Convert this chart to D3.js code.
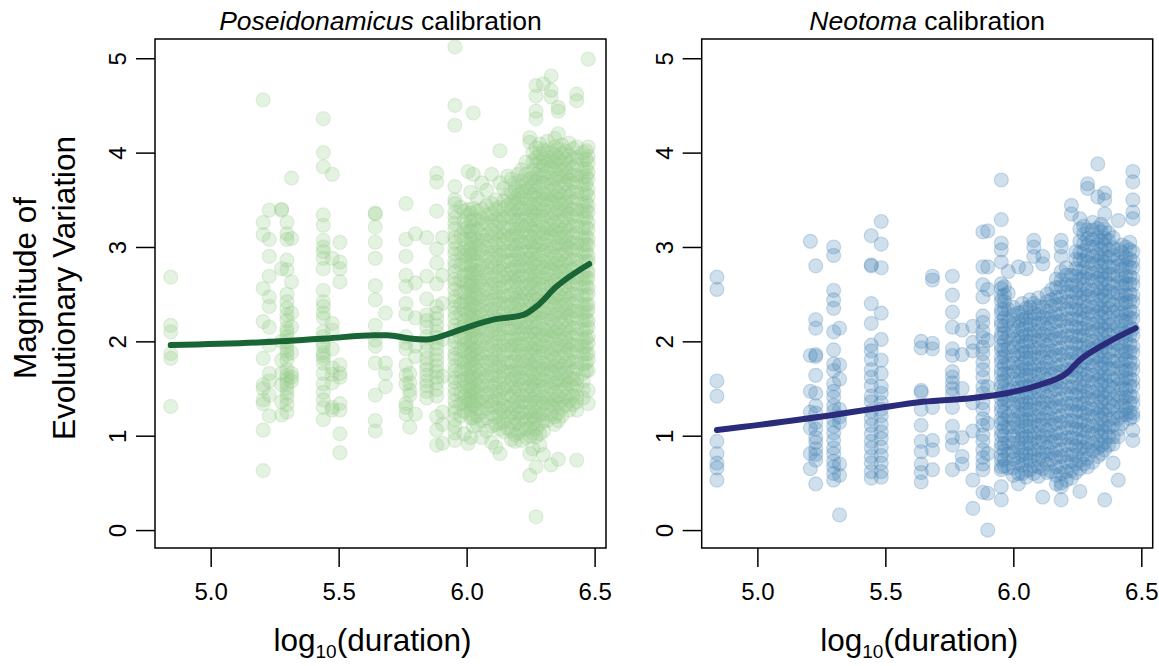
<!DOCTYPE html>
<html>
  <head>
    <meta charset="utf-8">
    <title>Magnitude of evolutionary variation</title>
    <script src="https://cdn.jsdelivr.net/npm/d3@7"></script>
    <style>
      body { margin: 0; background: #fff; }
      svg { display: block; font-family: "Liberation Sans", Arial, sans-serif; }
      .axis text { font-size: 24px; fill: #000; }
      .axis line { stroke: #000; stroke-width: 1.5; }
      .title { font-size: 26.5px; }
      .label { font-size: 31.5px; }
    </style>
  </head>
  <body>
    <svg id="svg" width="1159" height="666"></svg>
    <script>
      // ticks
      var xTicks = [5.0, 5.5, 6.0, 6.5];
      var yTicks = [0, 1, 2, 3, 4, 5];

      // Poseidonamicus calibration: x position of each duration column, y values in that column
      var poseCols = [4.844, 5.205, 5.229, 5.277, 5.298, 5.316, 5.440, 5.475, 5.505, 5.643, 5.683, 5.763, 5.778, 5.800, 5.844, 5.883, 5.906,
        5.954, 5.977, 6.006, 6.026, 6.059, 6.098, 6.130, 6.160, 6.189, 6.215, 6.247, 6.271, 6.300, 6.330, 6.358, 6.400, 6.430, 6.475,
        5.990, 6.016, 6.042, 6.078, 6.114, 6.145, 6.175, 6.202, 6.232, 6.259, 6.286, 6.315, 6.344, 6.372, 6.386, 6.415, 6.455, 6.467];
      var poseVals = [
        [2.68,2.17,2.10,1.87,1.82,1.31],
        [4.56,3.26,3.13,2.56,2.21,1.82,1.54,1.50,1.38,1.34,1.06,0.63],
        [3.39,3.08,2.90,2.69,2.47,2.37,2.15,1.96,1.66,1.58,1.43,1.21],
        [3.40,3.39,2.77,2.00,1.80,1.66,1.54,1.36,1.22],
        [3.26,3.14,3.08,2.86,2.76,2.50,2.42,2.35,2.28,2.22,2.14,2.10,2.05,2.00,1.95,1.90,1.86,1.80,1.70,1.64,1.60,1.55,1.50,1.45,1.40,1.33,1.25],
        [3.73,3.09,2.63,2.30,2.15,1.88,1.66,1.62,1.58],
        [4.36,4.00,3.85,3.34,3.23,3.07,3.00,2.95,2.88,2.77,2.54,2.42,2.37,2.30,2.25,2.10,2.05,1.98,1.95,1.88,1.85,1.82,1.77,1.66,1.55,1.46,1.38,1.30,1.17],
        [3.77,2.88,2.19,2.12,1.92,1.72,1.65,1.56,1.30,1.27],
        [3.05,2.84,2.77,2.63,1.75,1.66,1.62,1.34,1.27,1.02,0.82],
        [3.36,3.35,3.21,3.05,2.88,2.59,2.44,2.17,2.01,1.95,1.77,1.43,1.16,1.05],
        [2.30,1.77,1.66,1.52],
        [3.46,3.08,2.90,2.70,2.58,2.40,2.29,2.05,1.98,1.92,1.75,1.64,1.55,1.34,1.30,1.23],
        [1.66,1.56,1.48,1.43,1.09],
        [3.14,2.62,2.25,1.95,1.84,1.23],
        [3.10,2.69,2.45,2.28,2.22,2.15,2.05,1.98,1.90,1.82,1.75,1.70,1.64,1.58,1.53,1.47,1.40],
        [3.78,3.69,3.38,2.98,2.83,2.61,2.37,2.30,2.24,2.17,2.10,2.04,1.98,1.92,1.86,1.80,1.74,1.68,1.62,1.56,1.49,1.42,1.20,1.06,0.90],
        [3.10,2.70,2.40,2.02,1.63,1.25,1.12,0.92],
        [5.12,4.50,4.29,3.64,3.50,3.46,3.37,3.31,3.25,3.19,3.10,3.05,2.98,2.93,2.85,2.80,2.74,2.66,2.61,2.55,2.47,2.43,2.36,2.30,2.25,2.17,2.12,2.05,2.00,1.93,1.86,1.82,1.74,1.69,1.61,1.57,1.50,1.44,1.37,1.30,1.25,1.17,1.10,1.03,0.95],
        [3.42,3.12,2.94,2.81,2.65,2.52,2.39,2.29,2.14,2.04,1.91,1.81,1.68,1.58,1.45,1.34,1.21],
        [3.80,3.40,3.34,3.21,3.16,3.04,2.96,2.89,2.79,2.72,2.62,2.56,2.47,2.40,2.30,2.25,2.15,2.09,1.99,1.94,1.84,1.78,1.69,1.63,1.53,1.48,1.38,1.33,1.24,0.92],
        [4.42,3.77,3.41,3.29,3.21,3.11,3.04,2.93,2.86,2.76,2.71,2.60,2.54,2.45,2.38,2.29,2.22,2.12,2.07,1.97,1.91,1.82,1.76,1.66,1.61,1.51,1.46,1.37,1.32,1.19,1.10],
        [3.68,3.40,3.30,3.24,3.13,3.07,2.97,2.91,2.81,2.75,2.65,2.59,2.49,2.43,2.33,2.28,2.18,2.12,2.02,1.96,1.87,1.81,1.71,1.65,1.56,1.50,1.40,1.35,1.25,1.16,0.98],
        [3.77,3.46,3.35,3.28,3.18,3.11,3.01,2.94,2.84,2.78,2.67,2.61,2.51,2.44,2.34,2.28,2.17,2.11,2.01,1.95,1.85,1.79,1.69,1.63,1.53,1.47,1.37,1.32,1.23,1.10,0.93],
        [4.02,3.68,3.42,3.33,3.26,3.15,3.08,2.98,2.91,2.80,2.74,2.64,2.57,2.47,2.40,2.30,2.23,2.13,2.07,1.96,1.90,1.79,1.73,1.62,1.56,1.46,1.39,1.29,1.23,1.13,1.07,0.81],
        [3.75,3.55,3.44,3.33,3.19,3.09,2.95,2.85,2.71,2.62,2.48,2.38,2.24,2.14,2.01,1.91,1.77,1.67,1.53,1.44,1.30,1.20,1.08],
        [3.68,3.62,3.52,3.46,3.36,3.29,3.19,3.13,3.02,2.96,2.86,2.79,2.69,2.63,2.52,2.46,2.36,2.29,2.19,2.13,2.02,1.96,1.86,1.79,1.69,1.63,1.52,1.46,1.36,1.29,1.19,1.12,1.01,0.94],
        [3.82,3.70,3.59,3.52,3.41,3.34,3.23,3.16,3.05,2.98,2.87,2.80,2.69,2.62,2.51,2.44,2.33,2.26,2.15,2.08,1.97,1.90,1.79,1.72,1.61,1.54,1.43,1.36,1.25,1.18,1.07,0.95],
        [4.16,4.11,3.72,3.63,3.56,3.46,3.39,3.29,3.22,3.12,3.05,2.95,2.88,2.78,2.71,2.61,2.54,2.44,2.37,2.27,2.20,2.10,2.03,1.93,1.86,1.76,1.69,1.59,1.52,1.42,1.35,1.25,1.18,1.08,1.00,0.81,0.58],
        [4.71,4.60,4.44,4.36,4.05,3.95,3.88,3.77,3.70,3.59,3.52,3.41,3.34,3.23,3.16,3.05,2.98,2.87,2.80,2.69,2.62,2.51,2.44,2.33,2.26,2.15,2.08,1.97,1.90,1.79,1.72,1.61,1.54,1.43,1.36,1.25,1.18,1.07,0.99,0.67,0.14],
        [4.73,4.03,3.93,3.86,3.75,3.68,3.57,3.50,3.39,3.32,3.21,3.14,3.03,2.96,2.85,2.78,2.67,2.60,2.49,2.42,2.31,2.24,2.13,2.06,1.95,1.88,1.77,1.70,1.59,1.52,1.41,1.34,1.23,1.16,1.05,0.80],
        [4.81,4.66,4.59,4.00,3.91,3.84,3.73,3.66,3.55,3.48,3.37,3.30,3.19,3.12,3.01,2.94,2.83,2.76,2.65,2.58,2.47,2.40,2.29,2.22,2.11,2.04,1.93,1.86,1.75,1.68,1.57,1.50,1.39,1.32,1.22,0.69],
        [4.48,4.44,4.20,4.04,3.94,3.87,3.76,3.69,3.58,3.51,3.40,3.33,3.22,3.15,3.04,2.97,2.86,2.79,2.68,2.61,2.50,2.43,2.32,2.25,2.14,2.07,1.96,1.89,1.78,1.71,1.60,1.53,1.42,1.35,1.24,1.16,0.75],
        [4.10,3.97,3.89,3.78,3.71,3.60,3.53,3.42,3.35,3.24,3.17,3.06,2.99,2.88,2.81,2.70,2.63,2.52,2.45,2.34,2.27,2.16,2.09,1.98,1.91,1.80,1.73,1.62,1.55,1.44,1.37,1.27],
        [4.62,4.55,4.06,3.95,3.87,3.76,3.69,3.58,3.51,3.40,3.33,3.22,3.15,3.04,2.97,2.86,2.79,2.68,2.61,2.50,2.43,2.32,2.25,2.14,2.07,1.96,1.89,1.78,1.71,1.60,1.53,1.42,1.36,1.27,0.74],
        [4.99,4.06,3.96,3.89,3.79,3.72,3.61,3.54,3.44,3.37,3.26,3.19,3.09,3.02,2.91,2.85,2.74,2.67,2.57,2.50,2.39,2.33,2.22,2.15,2.05,1.98,1.87,1.80,1.69,1.48,1.34],
        // columns in between, inside the dense band
        [3.38,3.27,3.19,3.08,2.98,2.91,2.81,2.70,2.62,2.52,2.42,2.34,2.23,2.16,2.05,1.97,1.89,1.78,1.71,1.60,1.52,1.42,1.35,1.26,1.02],
        [3.58,3.36,3.27,3.17,3.08,2.99,2.92,2.81,2.73,2.64,2.58,2.48,2.40,2.33,2.25,2.17,2.11,2.02,1.94,1.87,1.80,1.72,1.63,1.57,1.48,1.42,1.35,1.27,1.19,0.98],
        [3.52,3.38,3.28,3.19,3.08,3.02,2.93,2.85,2.75,2.68,2.59,2.51,2.45,2.35,2.26,2.19,2.11,2.03,1.93,1.86,1.79,1.69,1.61,1.53,1.46,1.37,1.29,1.21,1.12],
        [3.60,3.44,3.34,3.25,3.14,3.07,2.99,2.89,2.80,2.72,2.65,2.55,2.46,2.38,2.31,2.21,2.12,2.04,1.97,1.87,1.78,1.70,1.63,1.53,1.44,1.36,1.29,1.19,1.05],
        [3.50,3.40,3.30,3.22,3.14,3.04,2.95,2.87,2.79,2.69,2.60,2.52,2.44,2.34,2.25,2.17,2.09,1.99,1.90,1.82,1.74,1.64,1.55,1.47,1.39,1.30,1.20,1.12,0.88],
        [3.62,3.49,3.40,3.30,3.20,3.12,3.04,2.94,2.84,2.76,2.68,2.58,2.48,2.40,2.32,2.22,2.12,2.04,1.96,1.86,1.76,1.68,1.60,1.50,1.40,1.32,1.25,1.15,1.04],
        [3.72,3.58,3.48,3.40,3.32,3.22,3.12,3.04,2.96,2.86,2.76,2.68,2.60,2.50,2.40,2.32,2.24,2.14,2.04,1.96,1.88,1.78,1.68,1.60,1.52,1.42,1.32,1.24,1.15,1.05,0.96],
        [3.77,3.65,3.55,3.47,3.39,3.29,3.19,3.11,3.03,2.93,2.83,2.75,2.67,2.57,2.47,2.39,2.31,2.21,2.11,2.03,1.95,1.85,1.75,1.67,1.59,1.49,1.39,1.31,1.23,1.13,1.03],
        [3.90,3.77,3.67,3.59,3.51,3.41,3.31,3.23,3.15,3.05,2.95,2.87,2.79,2.69,2.59,2.51,2.43,2.33,2.23,2.15,2.07,1.97,1.87,1.79,1.71,1.61,1.51,1.43,1.35,1.25,1.15,1.07,0.98],
        [4.00,3.91,3.81,3.73,3.65,3.55,3.45,3.37,3.29,3.19,3.09,3.01,2.93,2.83,2.73,2.65,2.57,2.47,2.37,2.29,2.21,2.11,2.01,1.93,1.85,1.75,1.65,1.57,1.49,1.39,1.29,1.21,1.13,1.03,0.86],
        [4.09,3.99,3.90,3.82,3.74,3.64,3.54,3.46,3.38,3.28,3.18,3.10,3.02,2.92,2.82,2.74,2.66,2.56,2.46,2.38,2.30,2.20,2.10,2.02,1.94,1.84,1.74,1.66,1.58,1.48,1.38,1.30,1.22,1.12,1.02,0.90],
        [4.12,4.02,3.95,3.87,3.79,3.69,3.59,3.51,3.43,3.33,3.23,3.15,3.07,2.97,2.87,2.79,2.71,2.61,2.51,2.43,2.35,2.25,2.15,2.07,1.99,1.89,1.79,1.71,1.63,1.53,1.43,1.35,1.27,1.16],
        [4.15,4.06,3.98,3.90,3.82,3.72,3.62,3.54,3.46,3.36,3.26,3.18,3.10,3.00,2.90,2.82,2.74,2.64,2.54,2.46,2.38,2.28,2.18,2.10,2.02,1.92,1.82,1.74,1.66,1.56,1.46,1.38,1.30,1.20,1.12],
        [4.08,3.99,3.90,3.82,3.74,3.64,3.54,3.46,3.38,3.28,3.18,3.10,3.02,2.92,2.82,2.74,2.66,2.56,2.46,2.38,2.30,2.20,2.10,2.02,1.94,1.84,1.74,1.66,1.58,1.48,1.38,1.30,1.21],
        [4.02,3.93,3.83,3.75,3.67,3.57,3.47,3.39,3.31,3.21,3.11,3.03,2.95,2.85,2.75,2.67,2.59,2.49,2.39,2.31,2.23,2.13,2.03,1.95,1.87,1.77,1.67,1.59,1.51,1.41,1.32],
        [4.04,3.94,3.84,3.76,3.68,3.58,3.48,3.40,3.32,3.22,3.12,3.04,2.96,2.86,2.76,2.68,2.60,2.50,2.40,2.32,2.24,2.14,2.04,1.96,1.88,1.78,1.68,1.60,1.52,1.42,1.33],
        [4.00,3.92,3.82,3.74,3.66,3.56,3.46,3.38,3.30,3.20,3.10,3.02,2.94,2.84,2.74,2.66,2.58,2.48,2.38,2.30,2.22,2.12,2.02,1.94,1.86,1.76,1.66,1.58,1.49,1.40],
        [4.02,3.93,3.83,3.75,3.67,3.57,3.47,3.39,3.31,3.21,3.11,3.03,2.95,2.85,2.75,2.67,2.59,2.49,2.39,2.31,2.23,2.13,2.03,1.95,1.87,1.77,1.69]
      ];
      var poseTrendX = [4.844, 5.20, 5.45, 5.64, 5.69, 5.78, 5.844, 5.935, 6.026, 6.104, 6.221, 6.273, 6.351, 6.479];
      var poseTrendY = [1.96, 1.99, 2.03, 2.065, 2.065, 2.03, 2.02, 2.085, 2.17, 2.23, 2.28, 2.37, 2.58, 2.82];

      // Neotoma calibration
      var neoCols = [4.842, 5.207, 5.228, 5.298, 5.321, 5.445, 5.484, 5.640, 5.684, 5.762, 5.800, 5.842, 5.881, 5.900,
        5.953, 5.980, 6.020, 6.050, 6.080, 6.115, 6.150, 6.187, 6.227, 6.260, 6.290, 6.330, 6.357, 6.390, 6.410, 6.440, 6.467,
        5.965, 6.000, 6.035, 6.065, 6.098, 6.132, 6.168, 6.207, 6.244, 6.275, 6.310, 6.344, 6.372, 6.425, 6.455];
      var neoVals = [
        [2.68,2.55,1.58,1.42,0.94,0.81,0.71,0.66,0.53],
        [3.06,1.85,1.47,1.25,1.08,0.81,0.65],
        [2.80,2.23,2.14,1.86,1.84,1.64,1.45,1.32,1.24,1.14,1.07,0.98,0.93,0.86,0.80,0.74,0.49],
        [3.00,2.91,2.54,2.44,2.35,2.10,1.91,1.76,1.69,1.55,1.47,1.41,1.32,1.26,1.17,1.10,1.03,0.95,0.87,0.81,0.73,0.67,0.60,0.53],
        [2.14,1.75,1.60,1.28,1.20,1.14,0.70,0.58,0.16],
        [3.12,2.81,2.80,2.40,2.19,1.96,1.90,1.81,1.70,1.62,1.53,1.42,1.36,1.26,1.18,1.11,1.02,0.94,0.87,0.78,0.71,0.62,0.55],
        [3.27,3.03,2.78,2.30,2.02,1.80,1.66,1.52,1.45,1.35,1.28,1.21,1.12,1.04,0.97,0.88,0.79,0.71,0.62,0.56],
        [2.00,1.93,1.48,1.46,1.28,1.11,0.94,0.83,0.70,0.61,0.51],
        [2.69,2.65,1.98,1.92,1.30,0.95,0.85,0.64],
        [2.69,2.49,2.31,2.15,1.92,1.85,1.68,1.62,1.56,1.50,1.44,1.30,1.10,0.98,0.90,0.64],
        [2.12,1.86,1.50,0.98,0.78,0.70],
        [2.16,1.99,1.90,1.35,1.05,0.53,0.23],
        [3.16,2.79,2.60,2.47,2.27,2.20,2.11,2.04,1.94,1.87,1.78,1.70,1.62,1.52,1.45,1.35,1.28,1.18,1.11,1.01,0.94,0.85,0.77,0.70,0.64,0.40],
        [3.17,2.79,2.55,2.01,1.52,1.13,0.81,0.39,0.00],
        [3.71,3.29,3.04,2.97,2.84,2.61,2.56,2.48,2.43,2.34,2.30,2.21,2.17,2.08,2.04,1.95,1.91,1.83,1.78,1.70,1.65,1.57,1.52,1.44,1.39,1.31,1.26,1.18,1.13,1.05,1.00,0.92,0.87,0.79,0.74,0.67,0.64,0.46,0.32],
        [2.74,2.51,2.34,2.21,2.05,1.93,1.77,1.65,1.49,1.37,1.21,1.09,0.93,0.81,0.66],
        [2.79,2.30,2.21,2.15,2.05,1.99,1.89,1.83,1.73,1.67,1.57,1.51,1.41,1.35,1.25,1.19,1.09,1.03,0.93,0.87,0.77,0.71,0.60,0.49],
        [2.77,2.35,2.25,2.18,2.07,2.00,1.89,1.82,1.71,1.64,1.53,1.46,1.35,1.28,1.17,1.10,0.99,0.92,0.81,0.74,0.63,0.56],
        [3.07,3.00,2.90,2.40,2.30,2.23,2.12,2.05,1.94,1.87,1.76,1.69,1.58,1.51,1.40,1.33,1.22,1.15,1.04,0.97,0.86,0.79,0.68,0.60],
        [2.90,2.82,2.36,2.26,2.19,2.08,2.01,1.90,1.83,1.72,1.65,1.54,1.47,1.36,1.29,1.18,1.11,1.00,0.93,0.82,0.75,0.65,0.35],
        [2.55,2.44,2.37,2.26,2.19,2.08,2.01,1.90,1.83,1.72,1.65,1.54,1.47,1.36,1.29,1.18,1.11,1.00,0.93,0.82,0.75,0.62],
        [3.07,3.00,2.90,2.74,2.65,2.58,2.47,2.40,2.29,2.22,2.11,2.04,1.93,1.86,1.75,1.68,1.57,1.50,1.39,1.32,1.21,1.14,1.03,0.96,0.85,0.78,0.67,0.60,0.50,0.46,0.32],
        [3.44,3.35,2.70,2.60,2.53,2.42,2.35,2.24,2.17,2.06,1.99,1.88,1.81,1.70,1.63,1.52,1.45,1.34,1.27,1.16,1.09,0.98,0.91,0.80,0.73,0.63,0.55],
        [3.30,3.19,3.06,2.94,2.86,2.74,2.66,2.54,2.46,2.34,2.26,2.14,2.06,1.94,1.86,1.74,1.66,1.54,1.46,1.34,1.26,1.14,1.06,0.94,0.86,0.74,0.65,0.41],
        [3.67,3.62,3.18,3.09,3.02,2.91,2.84,2.73,2.66,2.55,2.48,2.37,2.30,2.19,2.12,2.01,1.94,1.83,1.76,1.65,1.58,1.47,1.40,1.29,1.22,1.11,1.04,0.93,0.86,0.76,0.67],
        [3.88,3.53,3.20,3.10,3.03,2.92,2.85,2.74,2.67,2.56,2.49,2.38,2.31,2.20,2.13,2.02,1.95,1.84,1.77,1.66,1.59,1.48,1.41,1.30,1.23,1.12,1.05,0.94,0.87,0.78],
        [3.57,3.50,3.35,3.19,3.09,3.02,2.91,2.84,2.73,2.66,2.55,2.48,2.37,2.30,2.19,2.12,2.01,1.94,1.83,1.76,1.65,1.58,1.47,1.40,1.29,1.22,1.11,1.04,0.93,0.85,0.32],
        [3.10,2.99,2.91,2.79,2.71,2.59,2.51,2.39,2.31,2.19,2.11,1.99,1.91,1.79,1.71,1.59,1.51,1.39,1.31,1.19,1.11,0.99,0.91,0.71],
        [3.28,2.97,2.87,2.80,2.69,2.62,2.51,2.44,2.33,2.26,2.15,2.08,1.97,1.90,1.79,1.72,1.61,1.54,1.43,1.36,1.25,1.18,1.07,0.99,0.53],
        [3.00,2.89,2.81,2.69,2.61,2.49,2.41,2.29,2.21,2.09,2.01,1.89,1.81,1.69,1.61,1.49,1.41,1.29,1.22],
        [3.80,3.69,3.50,3.37,3.30,2.95,2.85,2.78,2.67,2.60,2.49,2.42,2.31,2.24,2.13,2.06,1.95,1.88,1.77,1.70,1.59,1.52,1.41,1.34,1.24,1.20,1.06,0.95],
        // columns in between, inside the dense band
        [2.58,2.49,2.42,2.34,2.25,2.16,2.09,2.00,1.91,1.84,1.75,1.66,1.59,1.50,1.41,1.34,1.25,1.16,1.09,1.00,0.91,0.84,0.75,0.68],
        [2.36,2.28,2.19,2.11,2.02,1.94,1.85,1.77,1.68,1.60,1.51,1.43,1.34,1.26,1.17,1.09,1.00,0.92,0.83,0.75,0.66,0.58],
        [2.40,2.31,2.23,2.13,2.05,1.95,1.87,1.77,1.69,1.59,1.51,1.41,1.33,1.23,1.15,1.05,0.97,0.87,0.79,0.69,0.60],
        [2.44,2.36,2.26,2.18,2.08,2.00,1.90,1.82,1.72,1.64,1.54,1.46,1.36,1.28,1.18,1.10,1.00,0.92,0.82,0.74,0.64],
        [2.46,2.37,2.29,2.19,2.11,2.01,1.93,1.83,1.75,1.65,1.57,1.47,1.39,1.29,1.21,1.11,1.03,0.93,0.85,0.75,0.67,0.57],
        [2.50,2.42,2.32,2.24,2.14,2.06,1.96,1.88,1.78,1.70,1.60,1.52,1.42,1.34,1.24,1.16,1.06,0.98,0.88,0.80,0.70,0.61],
        [2.66,2.57,2.47,2.39,2.29,2.21,2.11,2.03,1.93,1.85,1.75,1.67,1.57,1.49,1.39,1.31,1.21,1.13,1.03,0.95,0.85,0.77,0.67,0.58,0.49],
        [2.78,2.70,2.60,2.52,2.42,2.34,2.24,2.16,2.06,1.98,1.88,1.80,1.70,1.62,1.52,1.44,1.34,1.26,1.16,1.08,0.98,0.90,0.80,0.72,0.62,0.53],
        [2.95,2.87,2.77,2.69,2.59,2.51,2.41,2.33,2.23,2.15,2.05,1.97,1.87,1.79,1.69,1.61,1.51,1.43,1.33,1.25,1.15,1.07,0.97,0.89,0.79,0.70,0.61],
        [3.22,3.14,3.04,2.96,2.86,2.78,2.68,2.60,2.50,2.42,2.32,2.24,2.14,2.06,1.96,1.88,1.78,1.70,1.60,1.52,1.42,1.34,1.24,1.16,1.06,0.98,0.88,0.80,0.70],
        [3.26,3.18,3.08,3.00,2.90,2.82,2.72,2.64,2.54,2.46,2.36,2.28,2.18,2.10,2.00,1.92,1.82,1.74,1.64,1.56,1.46,1.38,1.28,1.20,1.10,1.02,0.92,0.84,0.72],
        [3.24,3.16,3.06,2.98,2.88,2.80,2.70,2.62,2.52,2.44,2.34,2.26,2.16,2.08,1.98,1.90,1.80,1.72,1.62,1.54,1.44,1.36,1.26,1.18,1.08,1.00,0.90,0.81],
        [3.15,3.07,2.97,2.89,2.79,2.71,2.61,2.53,2.43,2.35,2.25,2.17,2.07,1.99,1.89,1.81,1.71,1.63,1.53,1.45,1.35,1.27,1.17,1.09,0.99,0.90],
        [3.02,2.94,2.84,2.76,2.66,2.58,2.48,2.40,2.30,2.22,2.12,2.04,1.94,1.86,1.76,1.68,1.58,1.50,1.40,1.32,1.22,1.13],
        [3.05,2.97,2.87,2.79,2.69,2.61,2.51,2.43,2.33,2.25,2.15,2.07,1.97,1.89,1.79,1.71,1.61,1.53,1.43,1.35,1.25,1.18]
      ];
      var neoTrendX = [4.842, 5.295, 5.465, 5.647, 5.842, 5.973, 6.103, 6.207, 6.259, 6.35, 6.478];
      var neoTrendY = [1.06, 1.22, 1.29, 1.36, 1.40, 1.45, 1.54, 1.66, 1.80, 1.96, 2.14];

      svg = d3.select("#svg");
      top_ = 39; bottom = 548; panelWidth = 451;

      panels = [
        { left: 155, genus: "Poseidonamicus", cols: poseCols, vals: poseVals, trendX: poseTrendX, trendY: poseTrendY, fill: "#98ce8a", line: "#1a6535" },
        { left: 701.7, genus: "Neotoma", cols: neoCols, vals: neoVals, trendX: neoTrendX, trendY: neoTrendY, fill: "#4682b4", line: "#2b2b7b" }
      ];

      panels.forEach(function(p) {
        var x = d3.scaleLinear().domain([4.7825, 6.5445]).range([p.left, p.left + panelWidth]);
        var y = d3.scaleLinear().domain([-0.19, 5.204]).range([bottom, top_]);
        var g = svg.append("g");
        var pts = [];
        p.cols.forEach(function(c, i) {
          p.vals[i].forEach(function(v) { pts.push([c, v]); });
        });
        // points
        g.append("g").selectAll("circle")
            .data(pts)
          .enter().append("circle")
            .attr("cx", function(d) { return x(d[0]); })
            .attr("cy", function(d) { return y(d[1]); })
            .attr("r", 7)
            .attr("fill", p.fill)
            .attr("fill-opacity", 0.26)
            .attr("stroke", p.fill)
            .attr("stroke-opacity", 0.26)
            .attr("stroke-width", 1.2);
        // smoothed trend
        g.append("path")
          .datum(d3.zip(p.trendX, p.trendY))
          .attr("d", d3.line()
            .x(function(d) { return x(d[0]); })
            .y(function(d) { return y(d[1]); })
            .curve(d3.curveMonotoneX))
          .attr("fill", "none")
          .attr("stroke", p.line)
          .attr("stroke-width", 6)
          .attr("stroke-linecap", "round")
          .attr("stroke-linejoin", "round");
        // frame
        g.append("rect")
          .attr("x", p.left).attr("y", top_)
          .attr("width", panelWidth).attr("height", bottom - top_)
          .attr("fill", "none").attr("stroke", "#000").attr("stroke-width", 1.5);
        // axes
        var xa = g.append("g")
          .attr("class", "axis")
          .attr("transform", "translate(0," + bottom + ")")
          .call(d3.axisBottom(x).tickValues(xTicks).tickSize(19).tickFormat(d3.format(".1f")));
        xa.select(".domain").remove();
        xa.attr("font-family", null).attr("font-size", null);
        xa.selectAll("text").attr("y", 52).attr("dy", 0);
        var ya = g.append("g")
          .attr("class", "axis")
          .attr("transform", "translate(" + p.left + ",0)")
          .call(d3.axisLeft(y).tickValues(yTicks).tickSize(19).tickFormat(d3.format("d")));
        ya.select(".domain").remove();
        ya.attr("font-family", null).attr("font-size", null);
        ya.selectAll("text")
          .attr("x", 0).attr("dy", 0)
          .attr("text-anchor", "middle")
          .attr("transform", "translate(-29,0) rotate(-90)");
        // title
        var t = g.append("text")
          .attr("class", "title")
          .attr("x", p.left + panelWidth / 2)
          .attr("y", 30)
          .attr("text-anchor", "middle");
        t.append("tspan").attr("font-style", "italic").text(p.genus);
        t.append("tspan").text(" calibration");
        // x label
        var xl = g.append("text")
          .attr("class", "label")
          .attr("x", p.left + panelWidth / 2 - 8)
          .attr("y", 651)
          .attr("text-anchor", "middle");
        xl.append("tspan").text("log");
        xl.append("tspan").attr("font-size", "19px").attr("dy", 7).text("10");
        xl.append("tspan").attr("dy", -7).text("(duration)");
      });

      // y label
      var yl = svg.append("text")
        .attr("class", "label")
        .attr("text-anchor", "middle")
        .attr("transform", "translate(36,288) rotate(-90)");
      yl.append("tspan").attr("x", 0).attr("y", 0).text("Magnitude of");
      yl.append("tspan").attr("x", 0).attr("y", 39).text("Evolutionary Variation");
    </script>
  </body>
</html>
